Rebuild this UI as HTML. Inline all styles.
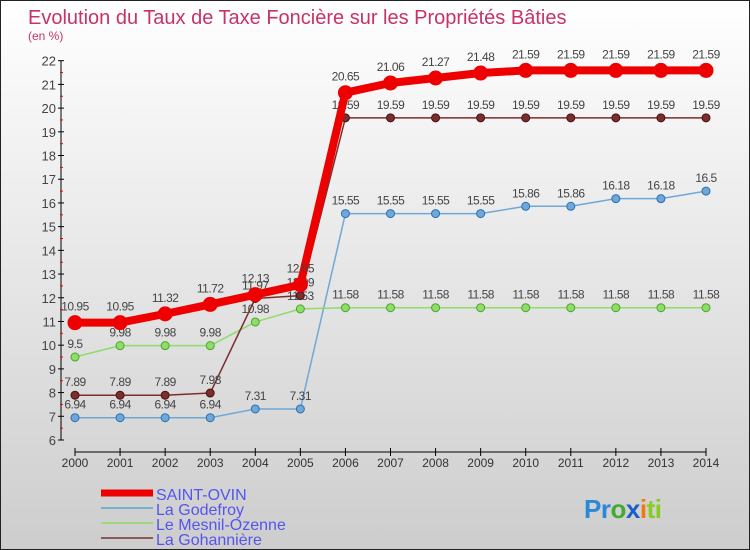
<!DOCTYPE html>
<html><head><meta charset="utf-8"><style>
html,body{margin:0;padding:0}
body{width:750px;height:550px;overflow:hidden;font-family:"Liberation Sans",sans-serif}
#wrap{position:relative;width:748px;height:548px;border:1px solid #222;background:linear-gradient(#ffffff,#cdcdcd)}
</style></head><body>
<div id="wrap">
<svg id="chart" width="748" height="548" style="position:absolute;left:0;top:0">
<text x="27" y="23" font-size="20" fill="#c8326a">Evolution du Taux de Taxe Foncière sur les Propriétés Bâties</text>
<text x="27" y="39" font-size="12" fill="#c8326a">(en %)</text>
</svg>
</div>
<script>
const years=[2000,2001,2002,2003,2004,2005,2006,2007,2008,2009,2010,2011,2012,2013,2014];
const saintOvin=[10.95,10.95,11.32,11.72,12.13,12.55,20.65,21.06,21.27,21.48,21.59,21.59,21.59,21.59,21.59];
const godefroy=[6.94,6.94,6.94,6.94,7.31,7.31,15.55,15.55,15.55,15.55,15.86,15.86,16.18,16.18,16.5];
const mesnil=[9.5,9.98,9.98,9.98,10.98,11.53,11.58,11.58,11.58,11.58,11.58,11.58,11.58,11.58,11.58];
const gohanniere=[7.89,7.89,7.89,7.98,11.97,12.09,19.59,19.59,19.59,19.59,19.59,19.59,19.59,19.59,19.59];
const yTicks=[6,7,8,9,10,11,12,13,14,15,16,17,18,19,20,21,22];
const NS="http://www.w3.org/2000/svg";
const svg=document.getElementById('chart');
const xS=i=>75+i*(706-75)/14-1;
const yS=v=>440-(v-6)*(440-60.7)/16-1;
function el(t,a,p){const e=document.createElementNS(NS,t);for(const k in a)e.setAttribute(k,a[k]);(p||svg).appendChild(e);return e;}
const ax=el('g',{});


el('line',{x1:60,y1:yS(22),x2:60,y2:yS(6),stroke:'#000'},ax);
yTicks.forEach(v=>{
 el('line',{x1:57,x2:63,y1:yS(v),y2:yS(v),stroke:'#000'},ax);
 if(v<22)el('line',{x1:59,x2:62,y1:yS(v+0.5),y2:yS(v+0.5),stroke:'#e00'},ax);
 const t=el('text',{x:55,y:yS(v)+5,'font-size':13,fill:'#444','text-anchor':'end'},ax);t.textContent=v;
 
 
});
el('line',{x1:xS(0),x2:xS(14),y1:451,y2:451,stroke:'#000'},ax);
years.forEach((y,i)=>{
 el('line',{x1:xS(i),x2:xS(i),y1:447,y2:455,stroke:'#000'},ax);
 const t=el('text',{x:xS(i),y:466,'font-size':12,fill:'#333','text-anchor':'middle'},ax);t.textContent=y;
 
 
});
function series(vals,color,w,r,name,dark){
 const g=el('g',{});
 
 
 el('polyline',{points:vals.map((v,i)=>xS(i)+','+yS(v)).join(' '),fill:'none',stroke:color,'stroke-width':w,'stroke-linejoin':'round'},g);
 vals.forEach((v,i)=>{
  const c=el('circle',{cx:xS(i),cy:yS(v),r:r,fill:color,stroke:dark,'stroke-width':1},g);
  
  
  const t=el('text',{x:xS(i),y:yS(v)-9-(r>5?3:0),'font-size':12,fill:'#444','text-anchor':'middle','letter-spacing':'-0.5'},g);t.textContent=v;
  
  
 });
}
series(godefroy,'#6fa8d8',1.5,4,'series-la-godefroy','#2a6fb0');
series(mesnil,'#8fdc6a',1.5,4,'series-le-mesnil-ozenne','#4aa62a');
series(gohanniere,'#7a2e2e',1.5,4,'series-la-gohanniere','#4a1010');
series(saintOvin,'#ee0000',8,7,'series-saint-ovin','#ee0000');
const lg=el('g',{});


const leg=[['SAINT-OVIN','#ee0000',7],['La Godefroy','#7aaed0',2],['Le Mesnil-Ozenne','#9ed87e',2],['La Gohannière','#8a5a5a',2]];
leg.forEach((l,i)=>{
 const y=492+i*15;
 el('line',{x1:100,x2:152,y1:y,y2:y,stroke:l[1],'stroke-width':l[2]},lg);
 const t=el('text',{x:155,y:y+7,'font-size':16,fill:'#5555ee'},lg);t.textContent=l[0];
 
 
});
const logo=el('text',{x:583,y:517,'font-size':26,'font-weight':'bold','letter-spacing':'-0.5'});


[['Pr','#2a88d8'],['o','#44aa33'],['x','#1a5fc8'],['i','#f07a10'],['ti','#88cc22']].forEach(p=>{const s=el('tspan',{fill:p[1]},logo);s.textContent=p[0];});
</script>
</body></html>
